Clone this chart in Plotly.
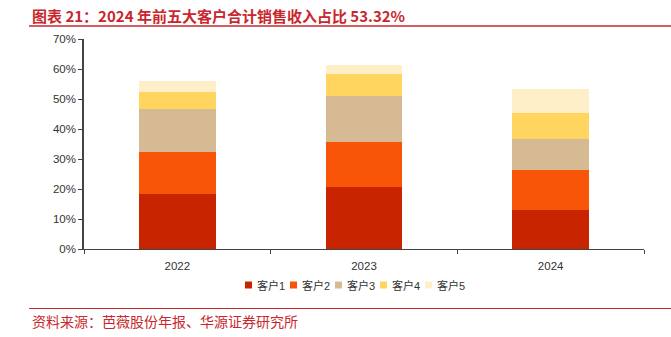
import plotly.graph_objects as go

# Share of annual sales revenue by top-5 customer, in percent
years = ["2022", "2023", "2024"]
customers = ["客户1", "客户2", "客户3", "客户4", "客户5"]
cust1 = [18.4, 20.7, 13.1]
cust2 = [14.1, 15.0, 13.1]
cust3 = [14.2, 15.2, 10.4]
cust4 = [5.7, 7.4, 8.6]
cust5 = [3.6, 3.1, 8.12]
series = [cust1, cust2, cust3, cust4, cust5]
colors = ["#C82400", "#F95508", "#D6BA94", "#FFD55F", "#FFEFC8"]
y_ticks = [0, 10, 20, 30, 40, 50, 60, 70]
y_tick_text = [f"{v}%" for v in y_ticks]

title_text = "图表 21：2024 年前五大客户合计销售收入占比 53.32%"
source_text = "资料来源：芭薇股份年报、华源证券研究所"
red = "#C8272D"

W, H = 671, 337
ML, MR, MT, MB = 84, 27, 39, 88
PW, PH = W - ML - MR, H - MT - MB


def px_x(x):
    return (x - ML) / PW


def px_y(y):
    return (H - MB - y) / PH


fig = go.Figure()
for name, vals, col in zip(customers, series, colors):
    fig.add_trace(go.Bar(
        x=years, y=vals, name=name,
        marker=dict(color=col, line=dict(width=0)),
        hoverinfo="skip", showlegend=False,
    ))

shapes = [
    dict(type="line", xref="paper", yref="paper",
         x0=px_x(29), x1=px_x(W), y0=px_y(26), y1=px_y(26),
         line=dict(color=red, width=1.5)),
    dict(type="line", xref="paper", yref="paper",
         x0=px_x(29), x1=px_x(W), y0=px_y(308.5), y1=px_y(308.5),
         line=dict(color=red, width=1.2)),
]
annotations = [
    dict(text=f"<b>{title_text}</b>", xref="paper", yref="paper",
         x=px_x(30), y=px_y(16), xanchor="left", yanchor="middle", showarrow=False,
         font=dict(family="Noto Sans CJK SC, sans-serif", size=15, color=red)),
    dict(text=source_text, xref="paper", yref="paper",
         x=px_x(30), y=px_y(321), xanchor="left", yanchor="middle", showarrow=False,
         font=dict(family="Noto Sans CJK SC, sans-serif", size=14, color=red)),
]

# Compact legend: small colour square followed by the series name
leg_x0, leg_step, leg_y, sq = 245, 45, 285, 7
for i, (name, col) in enumerate(zip(customers, colors)):
    lx = leg_x0 + i * leg_step
    shapes.append(dict(type="rect", xref="paper", yref="paper",
                       x0=px_x(lx), x1=px_x(lx + sq),
                       y0=px_y(leg_y + sq / 2), y1=px_y(leg_y - sq / 2),
                       fillcolor=col, line=dict(width=0)))
    annotations.append(dict(text=name, xref="paper", yref="paper",
                            x=px_x(lx + sq + 3), y=px_y(leg_y),
                            xanchor="left", yanchor="middle", showarrow=False,
                            font=dict(family="Liberation Sans, Noto Sans CJK SC, sans-serif",
                                      size=11, color="#333333")))

fig.update_layout(
    barmode="stack",
    bargap=0.59,
    width=W, height=H,
    margin=dict(l=ML, r=MR, t=MT, b=MB),
    paper_bgcolor="white",
    plot_bgcolor="white",
    font=dict(family="Liberation Sans, Arial, sans-serif", size=11, color="#333333"),
    showlegend=False,
    xaxis=dict(
        type="category",
        showline=True, linecolor="#444444", linewidth=1,
        ticks="outside", tickson="boundaries", ticklen=4, tickcolor="#444444",
        showgrid=False, zeroline=False,
        ticklabelstandoff=6,
        tickfont=dict(size=11.5, color="#333333"),
    ),
    yaxis=dict(
        range=[0, 70],
        tickvals=y_ticks, ticktext=y_tick_text,
        showline=True, linecolor="#444444", linewidth=1.5,
        ticks="outside", ticklen=4, tickcolor="#444444",
        showgrid=False, zeroline=False,
        tickfont=dict(size=11.5, color="#333333"),
    ),
    shapes=shapes,
    annotations=annotations,
)

fig.write_html("out.html")
